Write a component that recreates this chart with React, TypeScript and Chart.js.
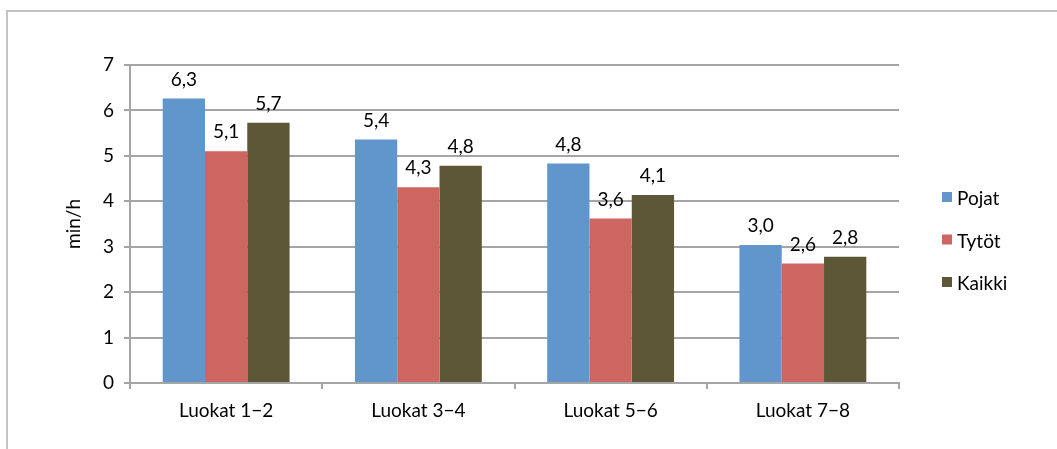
import React, { useEffect, useRef } from "react";
import { Chart, registerables } from "chart.js";

Chart.register(...registerables);

const categories = ["Luokat 1\u22122", "Luokat 3\u22124", "Luokat 5\u22126", "Luokat 7\u22128"];
const seriesNames = ["Pojat", "Tytöt", "Kaikki"];
const pojat = [6.26, 5.36, 4.83, 3.04];
const tytot = [5.1, 4.31, 3.62, 2.63];
const kaikki = [5.73, 4.78, 4.14, 2.78];
const yTicks = [0, 1, 2, 3, 4, 5, 6, 7];
const colors = ["#6196cc", "#cd6661", "#5d5637"];

const FONT = "Lato, 'Liberation Sans', sans-serif";

const dataLabels = {
  id: "dataLabels",
  afterDatasetsDraw(chart: any) {
    const ctx = chart.ctx;
    ctx.save();
    ctx.font = `19px ${FONT}`;
    ctx.fillStyle = "#000";
    ctx.textAlign = "center";
    ctx.textBaseline = "alphabetic";
    chart.data.datasets.forEach((ds: any, i: number) => {
      const meta = chart.getDatasetMeta(i);
      meta.data.forEach((bar: any, j: number) => {
        const v = ds.data[j] as number;
        ctx.fillText(v.toFixed(1).replace(".", ","), bar.x, bar.y - 13);
      });
    });
    ctx.restore();
  },
};

const sideLegend = {
  id: "sideLegend",
  afterDraw(chart: any) {
    const ctx = chart.ctx;
    const area = chart.chartArea;
    ctx.save();
    ctx.font = `19px ${FONT}`;
    ctx.textBaseline = "middle";
    ctx.textAlign = "left";
    chart.data.datasets.forEach((ds: any, i: number) => {
      const y = area.top + 134 + i * 42.5;
      ctx.fillStyle = ds.backgroundColor;
      ctx.fillRect(area.right + 43, y - 7, 10, 10);
      ctx.fillStyle = "#000";
      ctx.fillText(ds.label, area.right + 58, y);
    });
    ctx.restore();
  },
};

export default function App() {
  const ref = useRef<HTMLCanvasElement>(null);
  useEffect(() => {
    if (!ref.current) return;
    const chart = new Chart(ref.current, {
      type: "bar",
      data: {
        labels: categories,
        datasets: [pojat, tytot, kaikki].map((d, i) => ({
          label: seriesNames[i],
          data: d,
          backgroundColor: colors[i],
          borderWidth: 0,
          categoryPercentage: 0.66,
          barPercentage: 1,
        })),
      },
      options: {
        animation: false,
        responsive: false,
        devicePixelRatio: 1,
        layout: { padding: { left: 50, top: 53, right: 158, bottom: 26 } },
        plugins: { legend: { display: false }, tooltip: { enabled: false } },
        scales: {
          x: {
            grid: {
              display: true,
              drawOnChartArea: false,
              tickLength: 6,
              color: "#a5a5a5",
              lineWidth: 2,
              offset: true,
            },
            border: { color: "#a5a5a5", width: 2 },
            ticks: { color: "#000", font: { family: FONT, size: 19 }, padding: 10 },
            afterFit(scale: any) {
              scale.height = 40;
            },
          },
          y: {
            min: 0,
            max: 7,
            afterBuildTicks(scale: any) {
              scale.ticks = yTicks.map((v) => ({ value: v }));
            },
            grid: { color: "#a5a5a5", lineWidth: 2, tickLength: 6 },
            border: { color: "#a5a5a5", width: 2 },
            ticks: { color: "#000", font: { family: FONT, size: 19 }, padding: 10 },
            title: {
              display: true,
              text: "min/h",
              color: "#000",
              font: { family: FONT, size: 19 },
              padding: { top: 4, bottom: 4 },
            },
            afterFit(scale: any) {
              scale.width = 72;
            },
          },
        },
      },
      plugins: [dataLabels, sideLegend],
    });
    return () => chart.destroy();
  }, []);
  return (
    <div
      style={{
        position: "fixed",
        left: 6,
        top: 10,
        width: 1051,
        height: 439,
        boxSizing: "border-box",
        borderLeft: "2px solid #c4c4c4",
        borderTop: "2px solid #c4c4c4",
        background: "#fff",
      }}
    >
      <canvas ref={ref} width={1049} height={437} style={{ display: "block" }} />
    </div>
  );
}
